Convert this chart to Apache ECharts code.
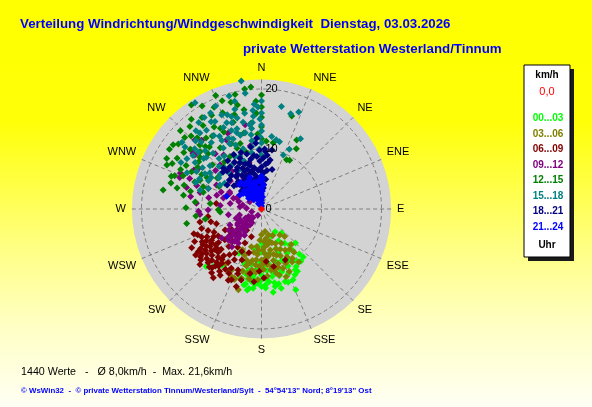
<!DOCTYPE html>
<html lang="de">
<head>
<meta charset="utf-8">
<title>Verteilung Windrichtung/Windgeschwindigkeit</title>
<script src="https://cdn.jsdelivr.net/npm/echarts@6/dist/echarts.min.js"></script>
<style>
  html, body { margin: 0; padding: 0; }
  #chart { width: 592px; height: 407px; }
</style>
</head>
<body>
<div id="chart"></div>
<script>
// Richtungen und Stundenklassen
var dirLabels = ['N','NNE','NE','ENE','E','ESE','SE','SSE','S','SSW','SW','WSW','W','WNW','NW','NNW'];
var hourBins = ['00...03','03...06','06...09','09...12','12...15','15...18','18...21','21...24'];
var speedTicks = [0, 10, 20];
var statCount = 1440, statAvg = '8,0', statMax = '21,6';

var calm = [[0, 0]];
var h00 = [[4.4,149],[5.5,171],[4.8,160],[5.2,140],[6,152],[6.3,185],[5.8,178],
  [6.9,146],[7,160],[7.5,170],[7.2,180],[7.9,159],[8,135],[7.6,142],[6.7,190],[7.9,202],[8.3,207],
  [8.5,150],[9.1,173],[9,165],[9.6,152],[8.8,182],[9.4,190],[9.2,158],[8.6,143],[9.8,140],[9.5,178],[10,168],[9.6,197],
  [10.6,139],[10.2,185],[10.4,146],[10.5,155],[10.8,162],[10.9,196],[10.3,175],[10.7,170],[11,180],[10.5,192],
  [11.2,149],[11,162],[11.4,171],[11.3,187],[11.5,165],[11.7,176],[11.8,183],[11.2,193],[11.6,157],[11.9,186],
  [12.3,153],[12.7,162],[12.7,177],[12.2,188],[12.1,197],[12.5,170],[12.9,180],[13.1,170],[13.4,189],[12.4,183],
  [13,160],[12.8,192],[13.3,186],[13.3,224],[14.6,157],[12.5,220],[13.7,190],[14,172],[11.5,215],[12,150],[13.6,166],
  [12,181],[12.6,185],[13,193],[11.9,191],[12.2,174],[13.2,177],[12.8,167],[11.6,151],[10.9,143],[12.9,156]];
var h03 = [[3.8,171],[4.3,180],[5.2,183],[4.5,165],[4.8,157],[5.3,145],[5.9,163],[5.5,175],[6,170],[6.3,187],
  [6.6,150],[6.2,158],[6.8,178],[7,168],[7.4,176],[7.1,160],[7.9,150],[7.6,185],[7.3,190],[7.8,165],[8,172],
  [8.2,145],[8.5,186],[8.5,180],[8.4,158],[8.9,196],[9,152],[9.2,192],[8.8,167],[9.5,163],[9.3,174],[9.6,182],
  [9.9,156],[9,143],[10.3,189],[10.3,171],[10.1,178],[10.5,160],[10.6,185],[10.8,197],[10.2,150],[11.3,206],
  [11.2,175],[11,192],[11.4,165],[11.8,183],[12.3,204],[12,196],[11.6,208],[12.6,201],[14,196],[12.4,201],
  [10.9,213],[11.8,190],[9.8,195],[8.2,200],[6.5,195],[7.5,205],[10.4,168],[9.4,186],[8.3,176],[9.7,148],
  [7.7,140],[6,140],[11,167],[12,160],[11.4,156],[10.8,145],
  [5,172],[5.6,166],[6.4,176],[6.9,184],[7.4,155],[7.7,171],[8.1,162],[8.7,190],[9.1,178],[9.8,170],[10.1,164]];
var h06 = [[4.3,215],[4.9,200],[5.5,225],[6.3,206],[6,235],[7,240],[7.9,252],[7.2,222],[7.5,212],[8.3,221],
  [8.6,211],[8,230],[8.8,244],[9.1,232],[9.1,201],[9.3,215],[9.5,225],[9.8,238],[9.6,208],[10,219],[10.3,229],
  [10.2,243],[10.5,212],[10.6,234],[10.9,201],[10.8,222],[11,245],[11.2,216],[11.3,227],[11.6,234],[11.4,239],
  [11.1,207],[11.9,224],[11.8,231],[11.7,211],[12,250],[12.2,219],[12.3,196],[12.1,237],[12.3,228],[12.7,236],
  [12.5,214],[12,207],[13,222],[13,212],[13.3,241],[13.2,230],[13.6,198],[12.8,203],[12.4,244],[13.5,218],
  [11.5,248],[10.5,252],[9.6,248],[8.7,256],[9,262],[10.5,258],[8.8,175],[9.4,155],[10.4,182],[11.5,178],
  [9.8,168],[12.2,186],[10.9,190],[7.6,196],[6.8,230],[7.8,205],[8.5,238],[9.9,228],[10.7,218],[11.6,220],
  [12.6,225],[13.8,228],[12.9,232],[10.1,236],[9.2,240],[11.5,200],[13.1,205],[14,215],[7.6,277],
  [10.2,225],[10.9,230],[11.3,241],[12.4,233],[11.9,217],[10.6,240],[9.7,232],[12.8,220],[11.1,236],[13.4,235]];
var h09 = [[1.2,210],[1.7,254],[2,225],[2.5,240],[2.8,215],[3,232],[3.3,216],[3.5,232],[3.6,225],[4,243],
  [4,220],[4.3,228],[4.7,216],[4.8,236],[5,226],[5.2,213],[5.5,222],[5.9,243],[5.6,260],[6.2,225],[6.5,237],
  [6.3,218],[6.9,214],[7.2,230],[7.6,227],[8.2,234],[7,220],[8,218],[4.5,250],[3.8,255],
  [2.2,232],[2.7,222],[3.1,240],[3.9,233],[4.4,222],[4.6,239],[5.3,230],[5.8,219],[6,232],[6.7,228],[7.4,224],
  [2.3,302],[2.5,273],[3.2,282],[3.6,276],[4.3,303],[4.5,294],[5.3,280],[5.9,296],[6,298],[6.6,286],[6.9,275],
  [7.8,287],[8.5,298],[8.9,269],[9,282],[10.5,268],[10.3,265],[10.6,285],[10.9,275],[13,286],[13,293],[14.6,291],
  [14.8,294],[12,280],[11.5,290],[9.5,291],[4,288],[5,291],[6.2,291],[7.3,293],
  [10,310],[10.1,317],[10.1,341],[10.7,350],[12.9,333],[13.8,336],[14.3,349],[14.3,309],[14.7,309],[15.2,319],
  [15.3,310],[12,320],[11,325],[9,330],[8,322],[7,312],[12.5,303],[16,316],[13,300],[8,345],[6,330]];
var h12 = [[20.4,355],[20.2,352],[20.9,326],[18.7,335],[18.2,327],[17.7,332],[17.8,347],[16.8,350],[18.2,319],
  [17,325],[18.3,303],[18.2,306],[17.4,295],[16.7,297],[16.7,281],[15,296],[13.2,280],[12.6,271],[12.7,259],
  [11.1,276],[10.1,286],[8.6,276],[7.2,269],[6.9,266],[13.2,298],[13.1,307],[12.8,316],[12.3,326],[10.2,329],
  [10.9,338],[13,347],[14.4,353],[15.2,342],[14.3,334],[17,0],[15.3,0],[13.7,0],[11.7,0],[19,0],[18,357],
  [16,357],[12.5,357],[16.3,18],[12.9,27],[11.6,30],[9.4,30],[9.2,27],[11.3,4],[11.2,10],[15.5,310],[14,313],
  [16,318],[15,322],[14,318],[11.5,300],[12,292],[10.5,300],[9,305],[8,298],[11,312],[9.5,318],[13.5,287],
  [14.5,300],[16,306],[15.8,330],[14.7,326],[13.5,320],[12,335],[11.5,342],[9.8,345],[8.5,335],[10,322],
  [19.2,340],[18.5,344],[19.8,330],[17.5,313],[16,290],[14.5,284],[11,264],[9.5,260],
  [19,322],[18.8,314],[17.6,308],[16.4,301],[15.5,291],[14.2,293],[13.4,310],[14.8,316],[16.9,316],[15.1,333],
  [17.3,338],[19.6,347],[12.7,303],[11.3,295],[10.4,291],[12.2,284],[15.7,286],[17.9,298],[20.4,338],[16.4,344]];
var h15 = [[21.6,351],[20.9,328],[18.1,332],[17.3,310],[17.4,11],[16.6,17],[17.3,21],[13.4,29],[11,25],[9.7,22],
  [11.6,15],[11.8,12],[12.2,8],[19.5,352],[18.5,346],[17,337],[16.7,340],[15.7,345],[15.5,338],[16.2,342],
  [14.8,348],[14,343],
  [18,0],[17,358],[16,0],[15,359],[14,0],[13,0],[12,359],[11,0],[10,358],[9,0],[17.5,356],[16.5,355],[15.5,355],
  [14.5,354],[13.5,353],[12.5,352],[11.5,352],[10.5,351],[9.5,350],
  [13.9,323],[12.6,313],[11.1,302],[9.5,291],[10.7,287],[15.5,300],[10.5,305],[14,330],[13,335],[12,328],
  [11,320],[10,315],[9,310],[8,300],[13.5,316],[15,318],[16,325],[16.5,332],[15,312],[12,305],[11.5,296],
  [9.8,333],[8.8,325],[8,318],[7.5,305],[14.5,308],[17,320],[18,328],[12.8,344],[11.5,338],[10.5,343],
  [9.5,338],[8.5,340],[7.5,330],[13,348],[14,339],[15,335],[16.8,330],[12.3,319],[11.2,310],[10,298],[12.8,311],
  [12.5,300],[13.5,305],[14.2,312],[15.8,316],[16.3,321],[14.6,327],[13.2,330],[12.1,334],[15.2,341],[17.8,324],
  [18.8,336],[19.6,344],[11.8,292],[13.8,296],[15,304],[16.4,309],[10.8,325],[9.2,318],[12.6,338],[14.2,352],
  [16.2,350],[17.2,345],[13.4,342],[8.8,306],[9.9,302]];
var h18 = [[10,3],[8.3,10],[8.5,2],[10,10],[6,3],[7.7,327],[8.75,323],[11.8,356],[9.8,358],[9.2,337],[9.3,317],
  [8.9,314],[3,0],[3.5,5],[4,355],[4.5,350],[5,345],[5.5,340],[6,335],[6.5,330],[7,325],[4,340],[4.5,335],
  [5,330],[5.5,325],[6,320],[3.5,345],[5,355],[5.5,0],[6.5,355],[7,350],[7.5,345],[8,340],[8.5,335],[9,330],
  [6.5,345],[7,340],[7.5,335],[8,330],[6,348],[7,0],[7.5,5],[8,358],[9,352],[9.5,345],[10,340],[10.5,350],
  [11,355],[5,8],[6.5,8],[4.5,312],[6,310],[7.5,318],[8.5,348],[9,6],[3,350],[2.5,340],[6.8,15],[5.2,320],[10.2,333],
  [4.2,325],[5.8,315],[6.8,322],[4.8,338],[6.2,342],[5.4,352],[3.8,333],[7.2,312],
  [3.2,328],[4.6,320],[5.7,332],[6.9,336],[7.9,344],[8.8,355],[9.6,4],[4.1,5],[5.1,3],[6.3,0],[7.8,8],[8.6,318],
  [7,305],[9.8,325]];
var h21 = [[0.5,0],[1,2],[1.5,0],[2,5],[2.5,0],[3,3],[3.5,0],[4,5],[4.5,0],[5,2],[5.5,0],[1.5,350],[2,345],
  [2.5,340],[3,335],[3,345],[3.5,338],[4,330],[4,342],[4.5,335],[5,328],[3.5,350],[2.5,355],[4.5,350],[3,325],
  [6.2,290],[4.3,303],[3.5,315],[4.9,325],[2.6,335],[2,320],[2.8,310],[4,310],[5.5,318],[1,330],[3.8,322],
  [4.6,345],[5.6,340],
  [1.8,335],[2.3,325],[3.3,318],[4.2,316],[3.6,330],[2.1,0],[3.2,358],[4.8,355],[5.2,336],[5.6,322]];

var hourData = [h00, h03, h06, h09, h12, h15, h18, h21];
var hourColors = ['#00ff00','#808000','#800000','#800080','#008000','#008080','#000080','#0000ff'];

var chart = echarts.init(document.getElementById('chart'));

var series = hourData.map(function (d, i) {
    return {
        name: hourBins[i],
        type: 'scatter',
        coordinateSystem: 'polar',
        polarIndex: 0,
        data: d,
        symbol: 'diamond',
        symbolSize: 7,
        itemStyle: { color: hourColors[i], opacity: 1 },
        silent: true
    };
});
series.push({
    name: 'Stille',
    type: 'scatter',
    coordinateSystem: 'polar',
    polarIndex: 0,
    data: calm,
    symbol: 'diamond',
    symbolSize: 7,
    itemStyle: { color: '#ff0000', opacity: 1 },
    silent: true
});

var font = '"Liberation Sans", Arial';
// grauer Kreis, Legendenkasten, Fusszeilen
var items = [
    { type: 'circle', z: -10, shape: { cx: 261.5, cy: 209, r: 129.6 }, style: { fill: '#d3d3d3' }, silent: true },
    { type: 'rect', shape: { x: 528, y: 69, width: 46, height: 192 }, style: { fill: '#1a1a1a' } },
    { type: 'rect', shape: { x: 524, y: 65, width: 46, height: 192 }, style: { fill: '#ffffff', stroke: '#000000', lineWidth: 1 } },
    { type: 'text', x: 547, y: 75, style: { text: 'km/h', fill: '#000', font: 'bold 10px ' + font, align: 'center', verticalAlign: 'middle' } },
    { type: 'text', x: 547, y: 92, style: { text: '0,0', fill: '#ff0000', font: '11px ' + font, align: 'center', verticalAlign: 'middle' } }
];
hourBins.forEach(function (b, i) {
    items.push({
        type: 'text', x: 548, y: 118.5 + i * 15.5,
        style: { text: b, fill: hourColors[i], font: 'bold 10px ' + font, align: 'center', verticalAlign: 'middle' }
    });
});
items.push({ type: 'text', x: 547, y: 245, style: { text: 'Uhr', fill: '#000', font: 'bold 10px ' + font, align: 'center', verticalAlign: 'middle' } });
items.push({ type: 'text', x: 21, y: 372,
    style: { text: statCount + ' Werte   -   \u00d8 ' + statAvg + 'km/h  -  Max. ' + statMax + 'km/h', fill: '#000', font: '10.7px ' + font, verticalAlign: 'middle' } });
items.push({ type: 'text', x: 21, y: 391,
    style: { text: '\u00a9 WsWin32  -  \u00a9 private Wetterstation Tinnum/Westerland/Sylt  -  54\u00b054\'13" Nord; 8\u00b019\'13" Ost', fill: '#0000ff', font: 'bold 7.9px ' + font, verticalAlign: 'middle' } });

var option = {
    animation: false,
    backgroundColor: new echarts.graphic.LinearGradient(0, 0, 0, 1, [
        { offset: 0, color: '#ffff00' },
        { offset: 0.3, color: '#ffff08' },
        { offset: 0.6, color: '#ffff80' },
        { offset: 0.8, color: '#ffffc4' },
        { offset: 1, color: '#fffff4' }
    ]),
    title: [{
        text: 'Verteilung Windrichtung/Windgeschwindigkeit  Dienstag, 03.03.2026',
        left: 20, top: 18, padding: 0,
        textStyle: { color: '#0000ff', fontSize: 13.3, fontWeight: 'bold', fontFamily: font }
    }, {
        text: 'private Wetterstation Westerland/Tinnum',
        left: 243, top: 43, padding: 0,
        textStyle: { color: '#0000ff', fontSize: 13.3, fontWeight: 'bold', fontFamily: font }
    }],
    polar: [
        { center: [261.5, 209], radius: 129.6 },
        { center: [261.5, 209], radius: 129.6 }
    ],
    angleAxis: [{
        polarIndex: 0,
        type: 'value', min: 0, max: 360, interval: 22.5,
        startAngle: 90, clockwise: true,
        axisLine: { show: false },
        axisTick: { show: false },
        axisLabel: {
            margin: 6, color: '#000', fontSize: 11, fontFamily: font,
            formatter: function (v) { return v >= 360 ? '' : dirLabels[Math.round(v / 22.5)]; }
        },
        splitLine: { show: true, lineStyle: { color: '#7f7f7f', width: 1, type: [4, 3] } }
    }, {
        polarIndex: 1,
        type: 'value', min: 0, max: 360, startAngle: 90, clockwise: true,
        axisLine: { show: false }, axisTick: { show: false }, axisLabel: { show: false }, splitLine: { show: false }
    }],
    radiusAxis: [{
        polarIndex: 0,
        type: 'value', min: 0, max: 21.6, interval: 10,
        axisLine: { show: false },
        axisTick: { show: false },
        axisLabel: { show: false },
        splitLine: { show: true, lineStyle: { color: ['#7f7f7f', '#7f7f7f', '#7f7f7f', 'rgba(0,0,0,0)'], width: 1, type: [4, 3] } }
    }, {
        polarIndex: 1,
        z: 10,
        type: 'value', min: 0, max: 21.6, interval: 10,
        axisLine: { show: false },
        axisTick: { show: false },
        splitLine: { show: false },
        axisLabel: {
            margin: -4, align: 'left', verticalAlign: 'middle',
            color: '#000', fontSize: 11, fontFamily: font,
            formatter: function (v) { return speedTicks.indexOf(v) >= 0 ? String(v) : ''; }
        }
    }],
    graphic: items,
    series: series
};
chart.setOption(option);
</script>
</body>
</html>
